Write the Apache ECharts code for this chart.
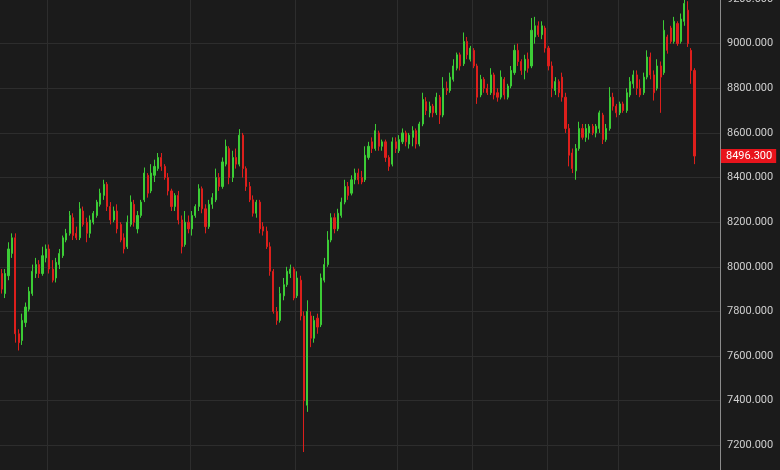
<!DOCTYPE html>
<html>
<head>
<meta charset="utf-8">
<script src="https://cdn.jsdelivr.net/npm/echarts@6/dist/echarts.min.js"></script>
<style>
html,body{margin:0;padding:0;background:#1b1b1b;}
#chart{width:780px;height:470px;}
</style>
</head>
<body>
<div id="chart"></div>
<script>
// OHLC values (one entry per trading session)
var opens = [7970,7880,7960,8060,8130,7700,7670,7750,7810,7880,7970,8010,7970,8040,8080,7990,7950,8010,8050,8120,
8150,8220,8150,8130,8250,8200,8150,8200,8230,8280,8320,8370,8270,8210,8250,8190,8130,8090,8190,8280,
8170,8230,8300,8410,8340,8410,8440,8490,8450,8400,8340,8270,8320,8210,8100,8200,8170,8230,8270,8350,
8260,8180,8280,8300,8400,8360,8460,8530,8400,8490,8460,8590,8440,8360,8300,8240,8290,8180,8160,8090,
7980,7800,7760,7870,7920,7970,7990,7870,7940,7780,7380,7780,7680,7770,7740,7940,8010,8120,8220,8170,
8230,8290,8360,8330,8390,8420,8400,8390,8490,8560,8530,8600,8540,8560,8490,8460,8560,8520,8560,8600,
8550,8580,8610,8550,8640,8740,8690,8720,8690,8760,8680,8800,8790,8840,8890,8950,8910,9010,8930,8970,
8900,8770,8840,8800,8780,8860,8780,8760,8840,8760,8810,8870,8970,8920,8880,8930,8900,9030,9080,9040,
9070,8980,8900,8790,8830,8850,8760,8620,8510,8430,8530,8620,8580,8600,8630,8600,8620,8680,8570,8620,
8760,8720,8690,8730,8700,8770,8820,8860,8800,8780,8850,8940,8860,8800,8900,8870,9030,9070,9010,9090,
9010,9100,9150,8970,8880];
var closes = [7900,7970,8080,8130,7700,7660,7760,7820,7890,7980,8010,7970,8050,8080,7990,7940,8020,8060,8130,8150,
8230,8140,8130,8260,8190,8150,8210,8240,8290,8330,8370,8270,8210,8250,8170,8120,8080,8200,8290,8200,
8230,8290,8420,8330,8420,8450,8490,8450,8400,8340,8270,8320,8210,8090,8200,8170,8230,8270,8350,8260,
8180,8280,8310,8400,8360,8470,8540,8400,8490,8460,8590,8440,8360,8300,8240,8290,8170,8160,8090,7980,
7800,7760,7880,7920,7980,7990,7860,7950,7780,7400,7800,7680,7760,7730,7950,8010,8120,8220,8170,8240,
8290,8360,8320,8390,8420,8390,8380,8500,8540,8530,8610,8540,8560,8490,8450,8560,8530,8570,8600,8560,
8590,8610,8550,8640,8750,8700,8720,8690,8760,8680,8800,8790,8850,8900,8950,8900,9010,8950,8980,8900,
8760,8840,8800,8780,8860,8770,8760,8850,8770,8810,8880,8970,8920,8880,8930,8890,9060,9080,9040,9080,
8980,8900,8800,8830,8780,8760,8620,8500,8440,8530,8620,8580,8620,8630,8600,8630,8690,8570,8620,8760,
8720,8690,8730,8700,8780,8830,8860,8800,8770,8850,8940,8860,8780,8900,8850,9060,8970,9010,9100,9000,
9110,9180,9000,8880,8496.3];
var lows = [7880,7860,7940,8040,7660,7625,7650,7730,7800,7870,7950,7950,7960,8020,7970,7930,7930,7990,8040,8110,
8140,8120,8120,8120,8180,8110,8130,8190,8220,8270,8300,8250,8190,8200,8150,8110,8060,8080,8180,8180,
8150,8220,8290,8310,8330,8380,8430,8430,8390,8320,8250,8250,8190,8060,8090,8150,8140,8220,8250,8240,
8150,8170,8260,8290,8340,8350,8450,8370,8380,8440,8450,8400,8340,8290,8225,8220,8150,8140,8080,7960,
7790,7740,7750,7850,7910,7950,7850,7860,7760,7170,7350,7640,7660,7700,7730,7930,8000,8110,8150,8160,
8220,8280,8300,8320,8370,8370,8370,8380,8480,8510,8520,8520,8520,8470,8430,8450,8510,8510,8550,8540,
8530,8540,8530,8540,8630,8680,8670,8670,8680,8640,8670,8770,8780,8830,8880,8880,8900,8930,8920,8890,
8730,8760,8780,8770,8770,8750,8740,8750,8750,8750,8800,8860,8900,8860,8840,8870,8890,9000,9030,9020,
8960,8880,8760,8770,8760,8740,8600,8450,8420,8390,8520,8570,8560,8570,8590,8580,8600,8550,8560,8610,
8700,8670,8680,8690,8690,8760,8800,8770,8760,8770,8840,8840,8745,8790,8690,8860,8955,9000,9000,8990,
9000,9080,8985,8820,8460];
var highs = [7990,7990,8110,8150,8150,7720,7790,7840,7910,8010,8040,8030,8090,8100,8100,8030,8040,8080,8140,8170,
8250,8240,8180,8290,8270,8220,8230,8250,8300,8350,8390,8380,8290,8270,8280,8200,8150,8230,8320,8300,
8250,8300,8445,8420,8460,8480,8510,8510,8460,8420,8350,8330,8340,8230,8250,8230,8250,8280,8370,8360,
8280,8300,8330,8440,8420,8490,8570,8540,8520,8530,8617,8600,8450,8380,8320,8300,8300,8200,8180,8110,
7990,7820,7910,7950,8000,8010,8000,7980,7960,7800,7850,7800,7780,7790,7970,8040,8160,8240,8240,8260,
8310,8390,8380,8410,8440,8440,8430,8540,8560,8580,8640,8610,8570,8570,8500,8580,8580,8590,8620,8610,
8600,8630,8620,8650,8780,8760,8740,8730,8780,8770,8850,8830,8870,8930,8960,8960,9050,9030,8990,8980,
8910,8860,8850,8820,8890,8870,8800,8880,8850,8820,8900,8995,9000,8930,8950,8960,9115,9120,9100,9100,
9080,8990,8920,8850,8840,8870,8780,8640,8530,8550,8650,8640,8640,8640,8640,8640,8700,8690,8640,8805,
8780,8730,8740,8740,8800,8850,8880,8880,8840,8870,8970,8960,8880,8930,8920,9105,9040,9080,9120,9100,
9135,9210,9190,8980,8890];
var emptyTail = 7;                       // empty sessions to the right of the last candle
var monthStarts = [14,56,87,117,139,161,182]; // category boundaries carrying vertical grid lines
var yTicks = {min:7000, max:9200, step:200};

var categories = [];
for (var i = 0; i < opens.length + emptyTail; i++) categories.push('D' + (i + 1));
var ohlc = opens.map(function (o, i) { return [o, closes[i], lows[i], highs[i]]; });
var lastClose = closes[closes.length - 1];

var chart = echarts.init(document.getElementById('chart'), null, {renderer: 'canvas'});
chart.setOption({
  backgroundColor: '#1b1b1b',
  animation: false,
  grid: {left: 0, right: 60, top: -1, height: 491, containLabel: false, outerBoundsMode: 'none'},
  xAxis: {
    type: 'category', data: categories, boundaryGap: true,
    axisLine: {show: false}, axisTick: {show: false}, axisLabel: {show: false},
    splitLine: {show: true, interval: function (idx) { return monthStarts.indexOf(idx) >= 0; },
      lineStyle: {color: '#2d2d2d', width: 1}}
  },
  yAxis: {
    type: 'value', position: 'right', scale: true,
    min: yTicks.min, max: yTicks.max, interval: yTicks.step,
    axisLine: {show: true, lineStyle: {color: '#8c8c8c', width: 1}},
    axisTick: {show: false},
    axisLabel: {color: '#cfcfcf', fontSize: 11, margin: 7, fontFamily: 'Roboto, sans-serif',
      showMinLabel: false, showMaxLabel: true,
      formatter: function (v) { return v.toFixed(3); }},
    splitLine: {show: true, lineStyle: {color: '#2d2d2d', width: 1}}
  },
  series: [{
    type: 'candlestick',
    data: ohlc,
    barWidth: 1.6,
    clip: false,
    itemStyle: {color: '#3ccc36', color0: '#dd1f1c', borderColor: '#3ccc36', borderColor0: '#dd1f1c', borderWidth: 1},
    markLine: {
      silent: true, symbol: ['none', 'none'],
      lineStyle: {color: 'rgba(0,0,0,0)', width: 1, type: 'solid'},
      data: [{yAxis: lastClose}],
      label: {show: true, position: 'end', distance: 1, color: '#ffffff', backgroundColor: '#e8141c',
        padding: [2, 4, 1, 5], fontSize: 11, fontFamily: 'Roboto, sans-serif', opacity: 1,
        formatter: function (p) { return Number(p.value).toFixed(3); }}
    }
  }]
});
</script>
</body>
</html>
